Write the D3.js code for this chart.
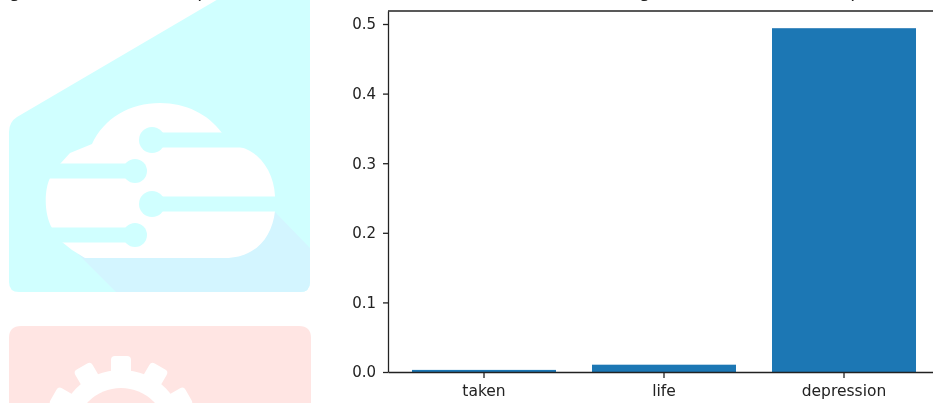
<!DOCTYPE html>
<html>
<head>
<meta charset="utf-8">
<script src="https://cdn.jsdelivr.net/npm/d3@7"></script>
<style>
	html, body { margin: 0; padding: 0; background: #fff; overflow: hidden; }
	svg { display: block; }
	text { font-family: "DejaVu Sans", sans-serif; }
</style>
</head>
<body>
<svg id="chart" width="933" height="403"></svg>
<script>
const categories = ['taken', 'life', 'depression']
const values = [0.003, 0.0105, 0.494]
const yTicks = [0, 0.1, 0.2, 0.3, 0.4, 0.5]
const yMax = 0.5187
// bits of the cut off titles, only the descenders show
const titleBits = [['g', 15], ['p', 203], ['g', 645], ['p', 856]]

const svg = d3.select('#chart')

// soft edges, the reference is an upscaled screenshot
svg.append('defs').append('filter')
	.attr('id', 'soft')
	.append('feGaussianBlur')
	.attr('stdDeviation', 0.5)

const defs = svg.select('defs')
defs.append('clipPath').attr('id', 'panel-clip')
	.append('path')
	.attr('d', 'M220,-2 L17,117 Q9,122 9,132 L9,282 Q9,292 19,292 L300,292 Q310,292 310,282 L310,-2 Z')

// left side images
let logoG = svg.append('g').attr('id', 'logos').attr('filter', 'url(#soft)')
let cyan = '#d0ffff'
let pink = '#ffe5e3'

logoG.append('path')
	.attr('d', 'M220,-2 L17,117 Q9,122 9,132 L9,282 Q9,292 19,292 L300,292 Q310,292 310,282 L310,-2 Z')
	.attr('fill', cyan)

logoG.append('path')
	.attr('clip-path', 'url(#panel-clip)')
	.attr('d', 'M275,212 L312,250 L312,294 L118,294 L78,254 Z')
	.attr('fill', '#d3f5ff')

logoG.append('path')
	.attr('d', 'M60,164 L70,153 L92,144 C104,118 130,103 160,103 C186,103 208,114 222,133 L222,147 L240,147 C260,152 274,172 275,196 L275,211 C272,238 255,258 225,258 L85,258 L72,250 L62,242 L52,228 C44,215 44,190 50,178 Z')
	.attr('fill', '#fff')

let wires = [
	{ x1: 152, x2: 246, y: 140, r: 13 },
	{ x1: 40, x2: 135, y: 171, r: 12 },
	{ x1: 152, x2: 280, y: 204, r: 13 },
	{ x1: 40, x2: 135, y: 235, r: 12 }
]
logoG.selectAll('rect.wire').data(wires).enter().append('rect')
	.attr('class', 'wire')
	.attr('x', d => d.x1)
	.attr('y', d => d.y - 7.5)
	.attr('width', d => d.x2 - d.x1)
	.attr('height', 15)
	.attr('fill', cyan)
logoG.selectAll('circle.wire').data(wires).enter().append('circle')
	.attr('class', 'wire')
	.attr('cx', d => d.x1 === 40 ? d.x2 : d.x1)
	.attr('cy', d => d.y)
	.attr('r', d => d.r)
	.attr('fill', cyan)

logoG.append('path')
	.attr('d', 'M9,338 Q9,326 21,326 L299,326 Q311,326 311,338 L311,410 L9,410 Z')
	.attr('fill', pink)

// gear
let gear = logoG.append('g').attr('transform', 'translate(121,434)')
gear.selectAll('rect').data(d3.range(-90, 91, 30)).enter().append('rect')
	.attr('x', -10)
	.attr('y', -78)
	.attr('width', 20)
	.attr('height', 20)
	.attr('rx', 4)
	.attr('transform', d => `rotate(${d})`)
	.attr('fill', '#fff')
gear.append('circle').attr('r', 64).attr('fill', '#fff')
gear.append('circle').attr('r', 46).attr('fill', pink)

// chart
let xScale = d3.scaleBand()
	.domain(categories)
	.range([388, 940])
	.paddingInner(0.2)
	.paddingOuter(0.1333)

let yScale = d3.scaleLinear()
	.domain([0, yMax])
	.range([372, 11])

let plot = svg.append('g').attr('id', 'plot').attr('filter', 'url(#soft)')

plot.append('g').attr('id', 'bars')
	.selectAll('rect')
	.data(values)
	.enter()
	.append('rect')
	.attr('x', (d, i) => xScale(categories[i]))
	.attr('y', d => yScale(d))
	.attr('width', xScale.bandwidth())
	.attr('height', d => yScale(0) - yScale(d))
	.attr('fill', '#1f77b4')

let leftAxis = d3.axisLeft(yScale)
	.tickValues(yTicks)
	.tickFormat(d3.format('.1f'))
	.tickSizeInner(5)
	.tickSizeOuter(0)
	.tickPadding(7)
let leftAxisG = plot.append('g')
	.attr('id', 'left-axis')
	.attr('transform', 'translate(388, 0)')
	.call(leftAxis)

let bottomAxis = d3.axisBottom(xScale)
	.tickSizeInner(6)
	.tickSizeOuter(0)
	.tickPadding(7)
let bottomAxisG = plot.append('g')
	.attr('id', 'bottom-axis')
	.attr('transform', 'translate(0, 372)')
	.call(bottomAxis)

plot.selectAll('#left-axis text')
	.style('font-size', '15px')
	.style('font-family', '"DejaVu Sans", sans-serif')
	.attr('fill', '#222')
plot.selectAll('#bottom-axis text')
	.style('font-size', '15.5px')
	.style('font-family', '"DejaVu Sans", sans-serif')
	.attr('fill', '#222')
plot.selectAll('.domain, .tick line')
	.attr('stroke', '#222')
	.attr('stroke-width', 1.3)

// top spine
plot.append('line')
	.attr('x1', 388)
	.attr('x2', 933)
	.attr('y1', yScale(yMax))
	.attr('y2', yScale(yMax))
	.attr('stroke', '#222')
	.attr('stroke-width', 1.3)

plot.selectAll('text.title-bit')
	.data(titleBits)
	.enter()
	.append('text')
	.attr('class', 'title-bit')
	.attr('x', d => d[1])
	.attr('y', -3)
	.attr('text-anchor', 'middle')
	.style('font-size', '18px')
	.attr('fill', '#222')
	.text(d => d[0])
</script>
</body>
</html>
